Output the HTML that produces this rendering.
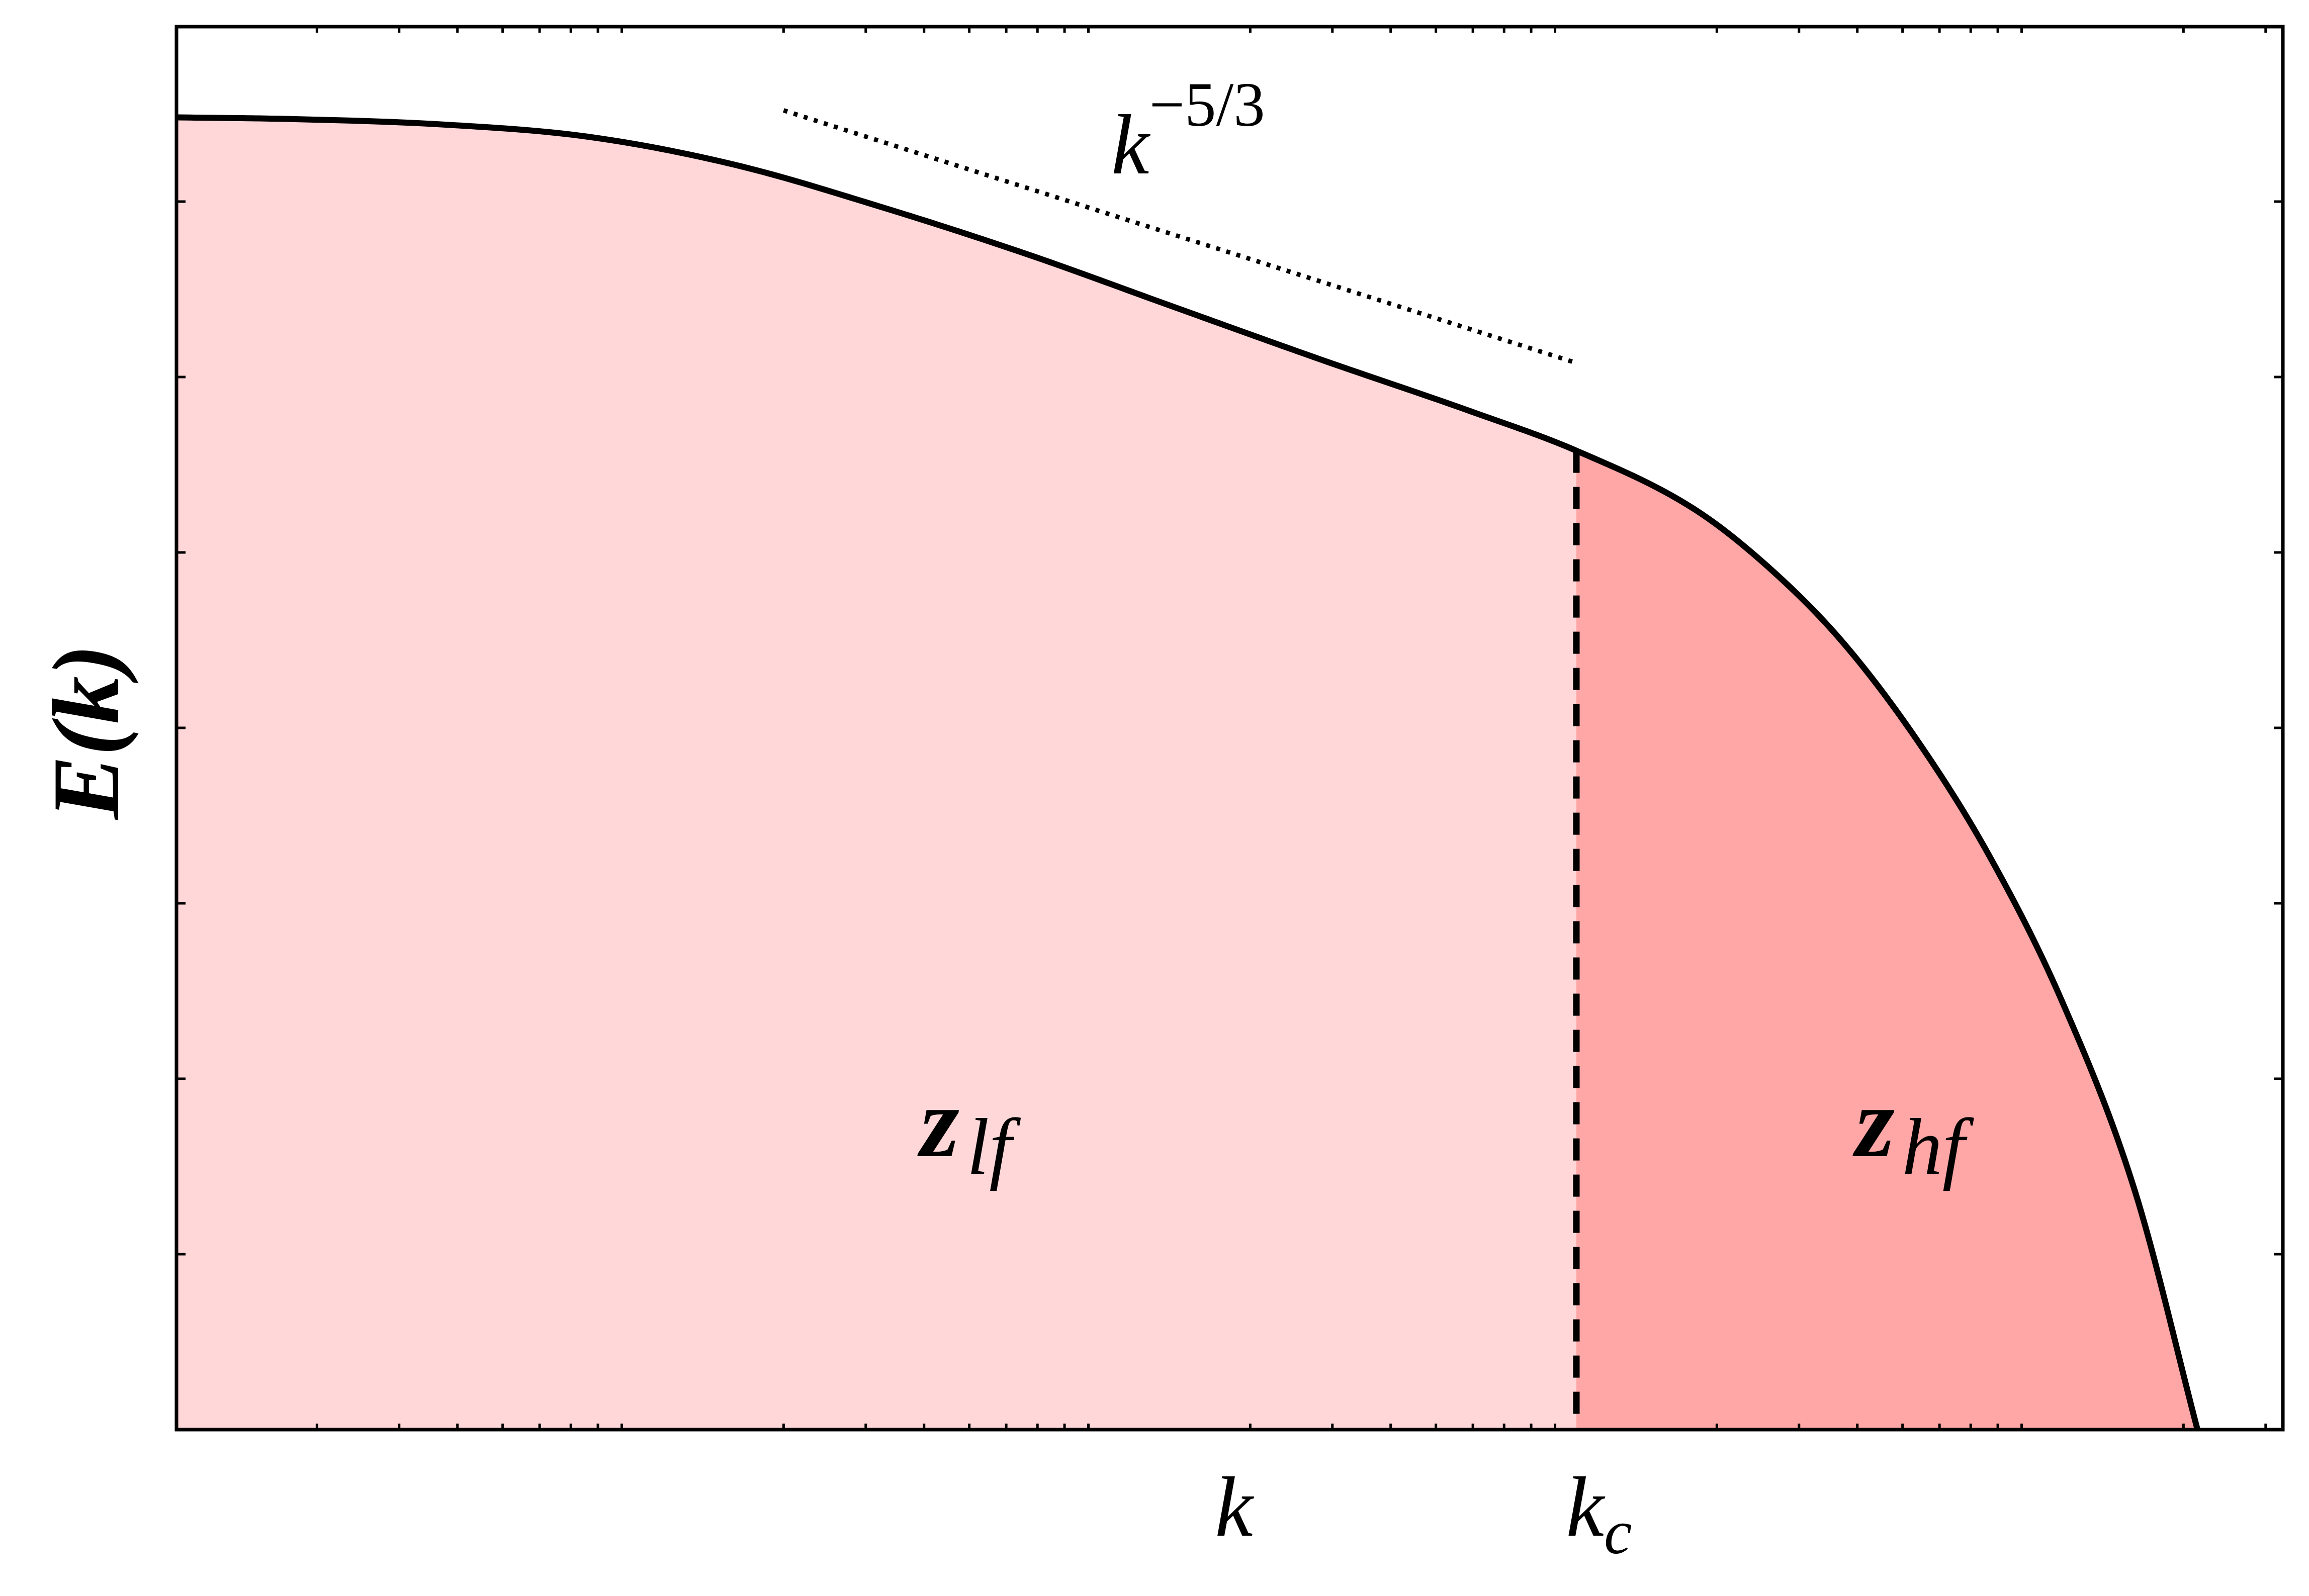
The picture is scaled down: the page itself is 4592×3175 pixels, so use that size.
<!DOCTYPE html>
<html><head><meta charset="utf-8"><style>
html,body{margin:0;padding:0;background:#fff;}
svg{display:block;}
text{font-family:"Liberation Serif",serif;font-style:italic;fill:#000;}
</style></head><body>
<svg id="chart" width="4592" height="3175" viewBox="0 0 4592 3175" xmlns="http://www.w3.org/2000/svg">
<g id="fills"></g>
<g id="lines"></g>
<g id="ticks"></g>
<rect x="351" y="53" width="4189" height="2791" fill="none" stroke="#000" stroke-width="7"/>
<text x="2454" y="3055" font-size="170" text-anchor="middle">k</text>
<text x="3180" y="3055" font-size="170" text-anchor="middle">k<tspan font-size="125" dy="35">c</tspan></text>
<text x="2210" y="345" font-size="170">k<tspan font-size="125" dy="-95" font-style="normal">−5/3</tspan></text>
<text x="0" y="0" font-size="190" font-weight="bold" text-anchor="middle" transform="translate(235,1456) rotate(-90)">E(k)</text>
<text x="1830" y="2300" font-size="200" font-weight="bold" font-style="normal">z<tspan font-size="160" font-weight="normal" font-style="italic" dx="15" dy="35">lf</tspan></text>
<text x="3690" y="2300" font-size="200" font-weight="bold" font-style="normal">z<tspan font-size="160" font-weight="normal" font-style="italic" dx="15" dy="35">hf</tspan></text>
</svg>
<script>
// data
const kValues = [1, 1.79, 3.68, 7.6, 15.7, 32.3, 66.5, 137, 283, 600, 1000, 1782, 2570, 3690, 5309, 7638, 10990, 15780, 21430];
const eValues = [7.48, 7.47, 7.44, 7.37, 7.21, 6.97, 6.70, 6.40, 6.10, 5.80, 5.58, 5.25, 4.92, 4.50, 3.95, 3.28, 2.44, 1.35, 0];
const kCutoff = 1000;
const slopeK = [20, 1000];
const slopeE = [7.52, 6.08];
const yTicks = [1, 2, 3, 4, 5, 6, 7];

const L = 351, R = 4540, T = 53, B = 2844;
const DEC = 928;
const logMin = 0, logMax = (R - L) / DEC;
const yMin = 0, yMax = (B - T) / 349;
function xs(k){ return L + (Math.log10(k) - logMin) / (logMax - logMin) * (R - L); }
function ys(e){ return B - (e - yMin) / (yMax - yMin) * (B - T); }
const NS = "http://www.w3.org/2000/svg";
function mk(tag, parent){ const el = document.createElementNS(NS, tag); parent.appendChild(el); return el; }

// monotone cubic interpolation in pixel space
const X = kValues.map(xs), Y = eValues.map(ys);
const n = X.length;
const dl = [], m = [];
for (let i = 0; i < n - 1; i++) dl.push((Y[i+1] - Y[i]) / (X[i+1] - X[i]));
m.push(dl[0]);
for (let i = 1; i < n - 1; i++) m.push(dl[i-1] * dl[i] <= 0 ? 0 : (dl[i-1] + dl[i]) / 2);
m.push(dl[n-2]);
for (let i = 0; i < n - 1; i++) {
  if (dl[i] === 0) { m[i] = 0; m[i+1] = 0; continue; }
  const a = m[i] / dl[i], b = m[i+1] / dl[i], s = a * a + b * b;
  if (s > 9) { const t = 3 / Math.sqrt(s); m[i] = t * a * dl[i]; m[i+1] = t * b * dl[i]; }
}
const dense = [];
for (let i = 0; i < n - 1; i++) {
  const h = X[i+1] - X[i];
  for (let s = 0; s < 20; s++) {
    const t = s / 20, t2 = t * t, t3 = t2 * t;
    const y = (2*t3 - 3*t2 + 1) * Y[i] + (t3 - 2*t2 + t) * h * m[i] + (-2*t3 + 3*t2) * Y[i+1] + (t3 - t2) * h * m[i+1];
    dense.push([X[i] + t * h, y]);
  }
}
dense.push([X[n-1], Y[n-1]]);
const xc = xs(kCutoff);
const yc = ys(eValues[kValues.indexOf(kCutoff)]);

const fills = document.getElementById('fills');
const lines = document.getElementById('lines');
const ticks = document.getElementById('ticks');

let low = `M${L},${B}`, high = `M${xc},${B} L${xc},${yc}`;
dense.forEach(p => {
  if (p[0] <= xc) low += ` L${p[0]},${p[1]}`;
  else high += ` L${p[0]},${p[1]}`;
});
low += ` L${xc},${yc} L${xc},${B} Z`;
high += ` L${dense[dense.length - 1][0]},${B} Z`;
const f1 = mk('path', fills);


f1.setAttribute('d', low); f1.setAttribute('fill', '#ffd7d8');
const f2 = mk('path', fills);


f2.setAttribute('d', high); f2.setAttribute('fill', '#ffa6a6');

const curve = mk('path', lines);


curve.setAttribute('d', dense.map((p, i) => (i ? 'L' : 'M') + p[0] + ',' + p[1]).join(' '));
curve.setAttribute('fill', 'none'); curve.setAttribute('stroke', '#000'); curve.setAttribute('stroke-width', '12');

const cut = mk('line', lines);


cut.setAttribute('x1', xc); cut.setAttribute('x2', xc);
cut.setAttribute('y1', yc); cut.setAttribute('y2', B);
cut.setAttribute('stroke', '#000'); cut.setAttribute('stroke-width', '13'); cut.setAttribute('stroke-dasharray', '44 28');

const slope = mk('line', lines);


slope.setAttribute('x1', xs(slopeK[0])); slope.setAttribute('y1', ys(slopeE[0]));
slope.setAttribute('x2', xs(slopeK[1])); slope.setAttribute('y2', ys(slopeE[1]));
slope.setAttribute('stroke', '#000'); slope.setAttribute('stroke-width', '9'); slope.setAttribute('stroke-dasharray', '8 13');

yTicks.forEach(v => {
  [[L, L + 18], [R, R - 18]].forEach(([a, b]) => {
    const t = mk('line', ticks);
    
    
    t.setAttribute('x1', a); t.setAttribute('x2', b);
    t.setAttribute('y1', ys(v)); t.setAttribute('y2', ys(v));
    t.setAttribute('stroke', '#000'); t.setAttribute('stroke-width', '5');
  });
});
for (let d = 0; d <= 4; d++) {
  for (let mm = 2; mm <= 9; mm++) {
    const x = xs(mm * Math.pow(10, d));
    if (x >= R) continue;
    [[B, B - 12], [T, T + 12]].forEach(([a, b]) => {
      const t = mk('line', ticks);
      
      
      t.setAttribute('x1', x); t.setAttribute('x2', x);
      t.setAttribute('y1', a); t.setAttribute('y2', b);
      t.setAttribute('stroke', '#000'); t.setAttribute('stroke-width', '5');
    });
  }
}
</script>
</body></html>
